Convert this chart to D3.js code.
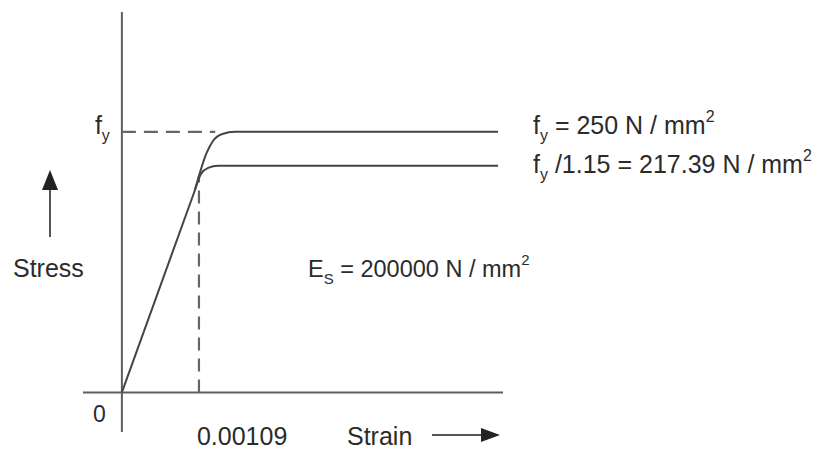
<!DOCTYPE html>
<html>
<head>
<meta charset="utf-8">
<script src="https://cdn.jsdelivr.net/npm/d3@7"></script>
<style>
  html, body { margin: 0; padding: 0; background: #fff; }
  svg text { font-family: "Liberation Sans", Arial, Helvetica, sans-serif; fill: #2b2b2b; }
</style>
</head>
<body>
<svg id="chart" width="822" height="450"></svg>
<script>
// ---- data (strain, stress N/mm²) ----
const elasticLine = [[0, 0], [0.00103, 193.5]];
const characteristicKnee = [
  [0.00090, 169], [0.00103, 193.5], [0.00120, 230], [0.00129, 241.5],
  [0.00142, 248], [0.00160, 250], [0.00532, 250]
];
const designKnee = [
  [0.00090, 169], [0.00103, 193.5], [0.00112, 209.8], [0.00122, 215.5],
  [0.00136, 217.39], [0.00532, 217.39]
];
const fy = 250;
const fyDesign = 217.39;
const yieldStrain = 0.00109;
const dashedYieldEnd = 0.00132;      // end of the horizontal dashed guide
const dashedStrainTop = 208;         // top of the vertical dashed guide
const xDomain = [-0.00055, 0.00539];
const yDomain = [-38, 365];
const tickLabels = { origin: "0", strain: "0.00109", stress: ["f", "y"] };
const axisTitles = { x: "Strain", y: "Stress" };

const svg = d3.select("#chart");
const x = d3.scaleLinear().domain(xDomain).range([83, 503]);
const y = d3.scaleLinear().domain(yDomain).range([432, 12]);

const axisColor = "#5e5e5e";
const lineColor = "#444";

// axes
svg.append("line").attr("x1", x(xDomain[0])).attr("x2", x(xDomain[1]))
  .attr("y1", y(0)).attr("y2", y(0))
  .attr("stroke", axisColor).attr("stroke-width", 2);
svg.append("line").attr("x1", x(0)).attr("x2", x(0))
  .attr("y1", y(yDomain[0])).attr("y2", y(yDomain[1]))
  .attr("stroke", axisColor).attr("stroke-width", 2);

// dashed guides
svg.append("line").attr("x1", x(0)).attr("x2", x(dashedYieldEnd))
  .attr("y1", y(fy)).attr("y2", y(fy))
  .attr("stroke", "#666").attr("stroke-width", 2.2).attr("stroke-dasharray", "14,8");
svg.append("line").attr("x1", x(yieldStrain)).attr("x2", x(yieldStrain))
  .attr("y1", y(0)).attr("y2", y(dashedStrainTop))
  .attr("stroke", "#666").attr("stroke-width", 2.2).attr("stroke-dasharray", "13,8");

// curves
const straight = d3.line().x(d => x(d[0])).y(d => y(d[1]));
const smooth = d3.line().x(d => x(d[0])).y(d => y(d[1])).curve(d3.curveMonotoneX);
svg.append("path").attr("d", straight(elasticLine)).attr("fill", "none")
  .attr("stroke", lineColor).attr("stroke-width", 2);
[characteristicKnee, designKnee].forEach(c => {
  svg.append("path").attr("d", smooth(c.slice(1))).attr("fill", "none")
    .attr("stroke", lineColor).attr("stroke-width", 2);
});

const FS = 25, SUB = 16;

// helper for "base + sub + rest + sup"
function label(xp, yp, parts, fs) {
  const f = fs || FS, sb = Math.round(f * 0.64);
  const t = svg.append("text").attr("x", xp).attr("y", yp).attr("font-size", f);
  parts.forEach(p => {
    const s = t.append("tspan").text(p.t);
    if (p.sub) s.attr("font-size", sb).attr("dy", 7);
    if (p.unsub) s.attr("dy", -7);
    if (p.sup) s.attr("font-size", sb).attr("dy", -12);
  });
  return t;
}

// tick labels
svg.append("text").attr("x", x(0) - 29).attr("y", y(0) + 30)
  .attr("font-size", FS - 2).text(tickLabels.origin);
svg.append("text").attr("x", x(yieldStrain) - 2).attr("y", y(0) + 53)
  .attr("font-size", FS).text(tickLabels.strain);
label(x(0) - 27, y(fy) + 2, [{t: tickLabels.stress[0]}, {t: tickLabels.stress[1], sub: true}]);

// right-hand annotations
label(533, y(fy) + 2, [{t: "f"}, {t: "y", sub: true}, {t: " = 250 N / mm", unsub: true}, {t: "2", sup: true}]);
label(533, y(fyDesign) + 7, [{t: "f"}, {t: "y", sub: true}, {t: " /1.15 = 217.39 N / mm", unsub: true}, {t: "2", sup: true}]);
label(308, 277, [{t: "E"}, {t: "S", sub: true}, {t: " = 200000 N / mm", unsub: true}, {t: "2", sup: true}], 23.5);

// axis titles + arrows
svg.append("text").attr("x", 13).attr("y", 277).attr("font-size", FS).text(axisTitles.y);
svg.append("text").attr("x", 347).attr("y", 445).attr("font-size", FS).text(axisTitles.x);

svg.append("line").attr("x1", 50).attr("x2", 50).attr("y1", 237).attr("y2", 188)
  .attr("stroke", "#555").attr("stroke-width", 2);
svg.append("path").attr("d", "M50,170 L42,190 L58,190 Z").attr("fill", "#222");

svg.append("line").attr("x1", 432).attr("x2", 484).attr("y1", 435).attr("y2", 435)
  .attr("stroke", "#555").attr("stroke-width", 2);
svg.append("path").attr("d", "M500,435 L481,428 L481,442 Z").attr("fill", "#222");
</script>
</body>
</html>
